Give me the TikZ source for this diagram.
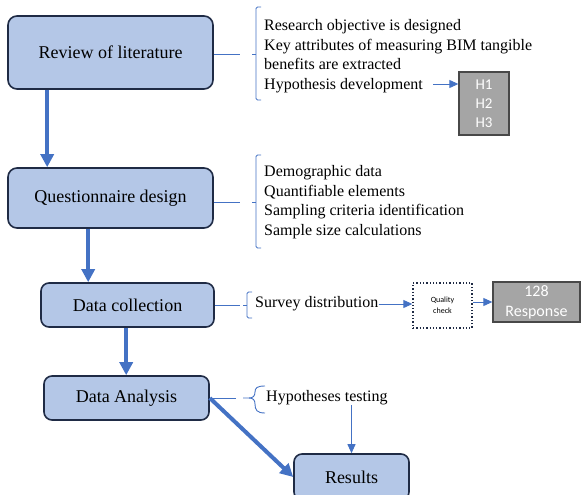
\documentclass[tikz,border=0pt]{standalone}
\usepackage{fontspec}
\setmainfont{Liberation Serif}
\newfontfamily\calibri{Carlito}
\usetikzlibrary{arrows.meta}
\definecolor{myfill}{HTML}{B4C7E7}
\definecolor{myedge}{HTML}{1F2B45}
\definecolor{myblue}{HTML}{4472C4}
\definecolor{mygray}{HTML}{A5A5A5}
\definecolor{mydark}{HTML}{484848}
\newcommand{\mybracket}[4]{% x, top, tip, bottom
  \draw[link,rounded corners=1.5pt] (#1+5,#2) -- (#1,#2) -- (#1,#4) -- (#1+5,#4);
  \draw[link] (#1,#3) -- (#1-4,#3);}

\begin{document}
\begin{tikzpicture}[x=1pt,y=-1pt,
    stage/.style={draw=myedge,line width=1.6pt,fill=myfill,rounded corners=9pt,inner sep=0pt,font=\fontsize{18}{22}\selectfont},
    flow/.style={myblue,line width=4pt,-{Triangle[width=13pt,length=13pt]}},
    link/.style={myblue,line width=0.9pt},
    linkarrow/.style={link,-{Triangle[width=8pt,length=9pt]}},
    items/.style={inner sep=0pt,align=left,anchor=north west,font=\fontsize{16}{19.7}\selectfont},
    greybox/.style={draw=mydark,line width=1.3pt,fill=mygray,text=white,inner sep=0pt,align=center,font=\calibri\fontsize{15}{19}\selectfont}]

    \useasboundingbox (0,0) rectangle (581,495);

    % main stages
    \node[stage,minimum width=205pt,minimum height=73pt] (rev) at (110.5,52.5) {Review of literature};
    \node[stage,minimum width=205pt,minimum height=60pt] (que) at (110.5,198) {Questionnaire design};
    \node[stage,minimum width=173pt,minimum height=44pt,rounded corners=8pt] (col) at (127.5,305) {Data collection};
    \node[stage,minimum width=165pt,minimum height=44pt,rounded corners=8pt] (ana) at (126.5,398) {Data Analysis};
    \node[stage,minimum width=115pt,minimum height=46pt,rounded corners=8pt] (res) at (351.5,477) {Results};

    \draw[flow] ([xshift=40pt]rev.south west) -- ([xshift=40pt]que.north west);
    \draw[flow] ([xshift=81pt]que.south west) -- ([xshift=48pt]col.north west);
    \draw[flow] ([xshift=86pt]col.south west) -- ([xshift=83pt]ana.north west);
    \draw[flow] (ana.east) -- (res.west);

    % review of literature
    \coordinate (br1) at (240,54);
    \draw[link] (rev.east |- br1) -- (br1);
    \mybracket{256}{7}{54}{100}
    \node[items] (lit) at (264,19) {Research objective is designed\\
      Key attributes of measuring BIM tangible\\
      benefits are extracted\\
      Hypothesis development};
    \node[greybox,minimum width=50pt,minimum height=63pt] (hyp) at (484,103.5) {H1\\H2\\H3};
    \coordinate (hs) at (433,84);
    \draw[linkarrow] (hs) -- (hyp.west |- hs);

    % questionnaire design
    \coordinate (br2) at (240,202);
    \draw[link] (que.east |- br2) -- (br2);
    \mybracket{256}{155}{202}{248}
    \node[items] (qit) at (264,165) {Demographic data\\
      Quantifiable elements\\
      Sampling criteria identification\\
      Sample size calculations};

    % data collection
    \coordinate (br3) at (240,305);
    \draw[link] (col.east) -- (br3);
    \mybracket{247}{292}{305}{318}
    \node[items,anchor=west] (sur) at (255,304) {Survey distribution};
    \node[draw=myedge,dotted,line width=1.3pt,minimum width=59pt,minimum height=45pt,inner sep=0pt,align=center,font=\calibri\fontsize{8}{11}\selectfont] (qc) at (442.5,305.5) {Quality\\check};
    \node[greybox,minimum width=87pt,minimum height=40pt,font=\calibri\fontsize{16}{20}\selectfont] (rsp) at (536.5,302) {128\\Response};
    \draw[linkarrow] (sur.east) -- (qc.west |- sur.east);
    \draw[linkarrow] (qc.east |- rsp.west) -- (rsp.west);

    % data analysis
    \coordinate (br4) at (236,398);
    \draw[link] (ana.east) -- (br4);
    \draw[link] (243,398) -- (249,398) .. controls (253,398) and (255,396) .. (255,392)
      .. controls (255,388) and (257,386) .. (265,386);
    \draw[link] (249,398) .. controls (253,398) and (255,400) .. (255,404)
      .. controls (255,410) and (257,413) .. (265,413);
    \node[items,anchor=west] (tst) at (266,398) {Hypotheses testing};
    \draw[linkarrow] (tst.south -| res.north) -- (res.north);

\end{tikzpicture}
\end{document}
